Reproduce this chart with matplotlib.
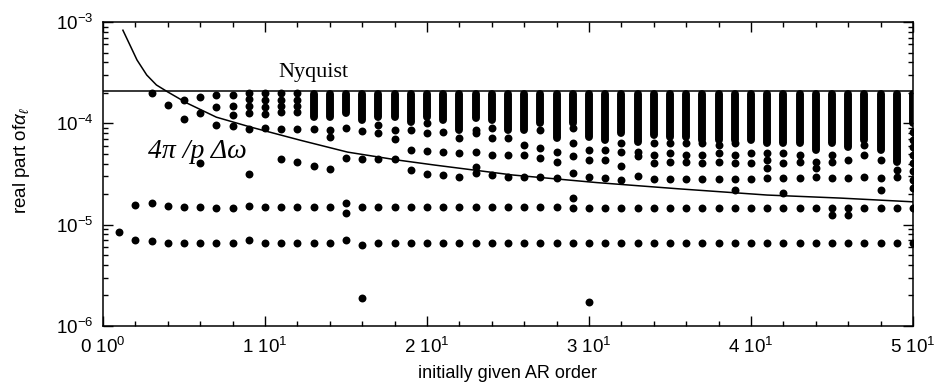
import matplotlib
matplotlib.use("Agg")
import matplotlib.pyplot as plt
from matplotlib.ticker import FixedLocator, MultipleLocator, LogLocator, NullFormatter

# AR orders on the x axis
orders = list(range(1, 51))

# Nyquist level
nyquist = 2.07e-4

# curve 4pi/(p dw)
curve_p = [1.23, 1.67, 2.1, 2.7, 3.3, 4.0, 5.2, 7.0, 9.1, 12.2, 15.1, 18.2,
           20.5, 25.3, 30.5, 35.5, 41.0, 45.5, 50.0]
curve_v = [8.3e-4, 5.9e-4, 4.22e-4, 3.0e-4, 2.39e-4, 2.04e-4, 1.58e-4, 1.15e-4,
           9.2e-5, 6.8e-5, 5.2e-5, 4.34e-5, 3.87e-5, 3.09e-5, 2.6e-5, 2.26e-5,
           1.96e-5, 1.83e-5, 1.68e-5]

# packed columns (orders 13..50): top and bottom of the stack
dense_p = list(range(13, 51))
dense_top = 1.94e-4
dense_lo = [1.15e-4, 1.15e-4, 1.26e-4, 1.08e-4, 1.15e-4, 1.15e-4, 1.03e-4, 1.15e-4,
            1.08e-4, 8.6e-5, 1.13e-4, 1.08e-4, 8.6e-5, 8.6e-5, 1.01e-4, 7.2e-5,
            1.01e-4, 7.3e-5, 6.8e-5, 8.0e-5, 6.5e-5, 7.7e-5, 7.3e-5, 7.3e-5,
            6.8e-5, 6.8e-5, 6.8e-5, 6.8e-5, 6.4e-5, 6.4e-5, 6.4e-5, 5.45e-5,
            6.4e-5, 5.8e-5, 6.8e-5, 5.45e-5, 4.15e-5, 1.01e-4]

# single dots above the two flat rows, one list per order 1..50
loose_dots = [
    [], [], [2.0e-4], [1.52e-4], [1.70e-4, 1.10e-4],
    [1.82e-4, 1.26e-4, 4.06e-5],
    [1.90e-4, 1.45e-4, 9.6e-5],
    [1.90e-4, 1.48e-4, 1.21e-4, 9.4e-5],
    [1.99e-4, 1.74e-4, 1.48e-4, 1.26e-4, 8.8e-5, 3.16e-5],
    [1.99e-4, 1.70e-4, 1.45e-4, 1.24e-4, 9.0e-5],
    [1.99e-4, 1.70e-4, 1.48e-4, 1.29e-4, 8.8e-5, 4.44e-5],
    [1.99e-4, 1.70e-4, 1.48e-4, 1.29e-4, 8.8e-5, 4.15e-5],
    [8.8e-5, 3.79e-5],
    [8.6e-5, 7.3e-5, 3.54e-5],
    [9.0e-5, 4.54e-5],
    [8.4e-5, 4.44e-5],
    [9.6e-5, 8.0e-5, 4.44e-5],
    [8.6e-5, 7.0e-5, 4.44e-5],
    [8.6e-5, 5.45e-5, 3.46e-5],
    [1.01e-4, 8.0e-5, 5.3e-5, 3.16e-5],
    [8.2e-5, 5.2e-5, 3.09e-5],
    [7.2e-5, 5.1e-5, 2.95e-5],
    [8.6e-5, 8.0e-5, 5.2e-5, 3.70e-5, 3.23e-5],
    [9.0e-5, 7.2e-5, 4.86e-5, 3.09e-5],
    [7.2e-5, 4.86e-5, 2.95e-5],
    [6.1e-5, 4.86e-5, 2.95e-5],
    [8.6e-5, 5.7e-5, 4.54e-5, 2.95e-5],
    [5.2e-5, 4.15e-5, 2.88e-5],
    [9.0e-5, 6.4e-5, 4.75e-5, 3.23e-5],
    [5.45e-5, 4.34e-5, 2.95e-5],
    [5.45e-5, 4.34e-5, 2.88e-5],
    [6.4e-5, 5.2e-5, 3.79e-5, 2.75e-5],
    [5.2e-5, 4.75e-5, 3.02e-5],
    [6.4e-5, 4.86e-5, 4.06e-5, 2.82e-5],
    [6.4e-5, 5.1e-5, 4.15e-5, 2.82e-5],
    [6.4e-5, 4.86e-5, 4.15e-5, 2.82e-5],
    [6.4e-5, 4.86e-5, 4.06e-5, 2.82e-5],
    [6.1e-5, 5.1e-5, 4.15e-5, 2.82e-5],
    [6.4e-5, 4.86e-5, 4.06e-5, 2.82e-5, 2.2e-5],
    [5.1e-5, 4.06e-5, 2.82e-5],
    [5.1e-5, 4.34e-5, 3.62e-5, 2.88e-5],
    [5.1e-5, 4.06e-5, 2.88e-5, 2.05e-5],
    [4.86e-5, 4.15e-5, 2.88e-5],
    [4.15e-5, 3.62e-5, 2.95e-5],
    [4.86e-5, 4.15e-5, 2.88e-5],
    [4.34e-5, 2.88e-5],
    [6.1e-5, 4.86e-5, 2.95e-5],
    [4.34e-5, 2.88e-5, 2.2e-5],
    [3.46e-5, 2.95e-5],
    [8.2e-5, 6.8e-5, 5.8e-5, 4.86e-5, 4.06e-5, 3.38e-5, 2.75e-5, 2.30e-5],
]

# upper flat row (orders 2..50)
row1_p = list(range(2, 51))
row1_v = [1.56e-5, 1.62e-5, 1.53e-5, 1.49e-5, 1.50e-5, 1.46e-5, 1.46e-5, 1.53e-5,
          1.50e-5, 1.50e-5, 1.50e-5, 1.50e-5, 1.50e-5, 1.63e-5, 1.50e-5, 1.50e-5,
          1.50e-5, 1.50e-5, 1.50e-5, 1.50e-5, 1.50e-5, 1.50e-5, 1.50e-5, 1.50e-5,
          1.50e-5, 1.50e-5, 1.50e-5, 1.83e-5, 1.47e-5, 1.47e-5, 1.47e-5, 1.47e-5,
          1.47e-5, 1.47e-5, 1.47e-5, 1.47e-5, 1.47e-5, 1.47e-5, 1.47e-5, 1.47e-5,
          1.47e-5, 1.47e-5, 1.47e-5, 1.47e-5, 1.47e-5, 1.47e-5, 1.47e-5, 1.47e-5,
          1.47e-5]
# second dots in the upper row
row1b_p = [15, 29, 45, 46]
row1b_v = [1.30e-5, 1.46e-5, 1.24e-5, 1.24e-5]

# lower flat row (orders 1..50)
row2_v = [8.45e-6, 7.05e-6, 6.9e-6, 6.6e-6, 6.6e-6, 6.6e-6, 6.6e-6, 6.6e-6, 7.05e-6,
          6.6e-6, 6.6e-6, 6.6e-6, 6.6e-6, 6.6e-6, 7.05e-6, 6.3e-6, 6.6e-6, 6.6e-6,
          6.6e-6, 6.6e-6, 6.6e-6, 6.6e-6, 6.6e-6, 6.6e-6, 6.6e-6, 6.6e-6, 6.6e-6,
          6.6e-6, 6.6e-6, 6.6e-6, 6.6e-6, 6.6e-6, 6.6e-6, 6.6e-6, 6.6e-6, 6.6e-6,
          6.6e-6, 6.6e-6, 6.6e-6, 6.6e-6, 6.6e-6, 6.6e-6, 6.6e-6, 6.6e-6, 6.6e-6,
          6.6e-6, 6.6e-6, 6.6e-6, 6.6e-6, 6.6e-6]

# two isolated low roots
low_p = [16, 30]
low_v = [1.88e-6, 1.72e-6]

x_ticks = [0, 10, 20, 30, 40, 50]
x_labels = ["0 10$^{0}$", "1 10$^{1}$", "2 10$^{1}$", "3 10$^{1}$", "4 10$^{1}$", "5 10$^{1}$"]
y_ticks = [1e-6, 1e-5, 1e-4, 1e-3]
y_labels = ["10$^{-6}$", "10$^{-5}$", "10$^{-4}$", "10$^{-3}$"]

plt.rcParams["font.family"] = ["Liberation Sans", "DejaVu Sans"]
plt.rcParams["mathtext.fontset"] = "custom"
plt.rcParams["mathtext.rm"] = "Liberation Sans"
plt.rcParams["mathtext.it"] = "Liberation Sans:italic"

fig = plt.figure(figsize=(9.43, 3.89), dpi=100)
ax = fig.add_axes([0.1092, 0.162, 0.859, 0.7814])

dot = 5.7  # dot diameter in points

# packed columns drawn as thick round-capped strokes
ax.vlines(dense_p, dense_lo, [dense_top] * len(dense_p), colors="black",
          linewidth=dot, capstyle="round")

# loose dots
lp = []
lv = []
for p, vals in zip(orders, loose_dots):
    for v in vals:
        lp.append(p)
        lv.append(v)
ax.scatter(lp, lv, s=dot ** 2, color="black", linewidths=0)
ax.scatter(row1_p, row1_v, s=dot ** 2, color="black", linewidths=0)
ax.scatter(row1b_p, row1b_v, s=dot ** 2, color="black", linewidths=0)
ax.scatter(orders, row2_v, s=dot ** 2, color="black", linewidths=0)
ax.scatter(low_p, low_v, s=dot ** 2, color="black", linewidths=0)

# Nyquist line and 4pi/p dw curve
ax.axhline(nyquist, color="black", linewidth=1.1)
ax.plot(curve_p, curve_v, color="black", linewidth=1.1)

ax.text(10.85, 2.87e-4, "Nyquist", family="Liberation Serif", fontsize=16)
ax.text(2.75, 4.54e-5, "4\u03c0 /p \u0394\u03c9", family="Liberation Serif",
        fontstyle="italic", fontsize=20)

ax.set_yscale("log")
ax.set_xlim(0, 50)
ax.set_ylim(1e-6, 1e-3)

ax.xaxis.set_major_locator(FixedLocator(x_ticks))
ax.set_xticklabels(x_labels)
ax.xaxis.set_minor_locator(MultipleLocator(2))
ax.yaxis.set_major_locator(FixedLocator(y_ticks))
ax.set_yticklabels(y_labels)
ax.yaxis.set_minor_locator(LogLocator(base=10, subs=range(2, 10)))
ax.yaxis.set_minor_formatter(NullFormatter())

ax.tick_params(which="both", direction="in", top=True, right=True, width=1.0)
ax.tick_params(which="major", length=7, labelsize=13.5)
ax.tick_params(axis="x", which="major", pad=8)
ax.tick_params(axis="y", which="major", pad=7)
ax.tick_params(which="minor", length=3.5)
for s in ax.spines.values():
    s.set_linewidth(1.1)

ax.set_xlabel("initially given AR order", fontsize=13)
ax.set_ylabel("real part of$\\alpha_{\\ell}$", fontsize=13.5)
ax.xaxis.set_label_coords(0.5, -0.13)
ax.yaxis.set_label_coords(-0.088, 0.546)

fig.savefig("out.png", dpi=100)
